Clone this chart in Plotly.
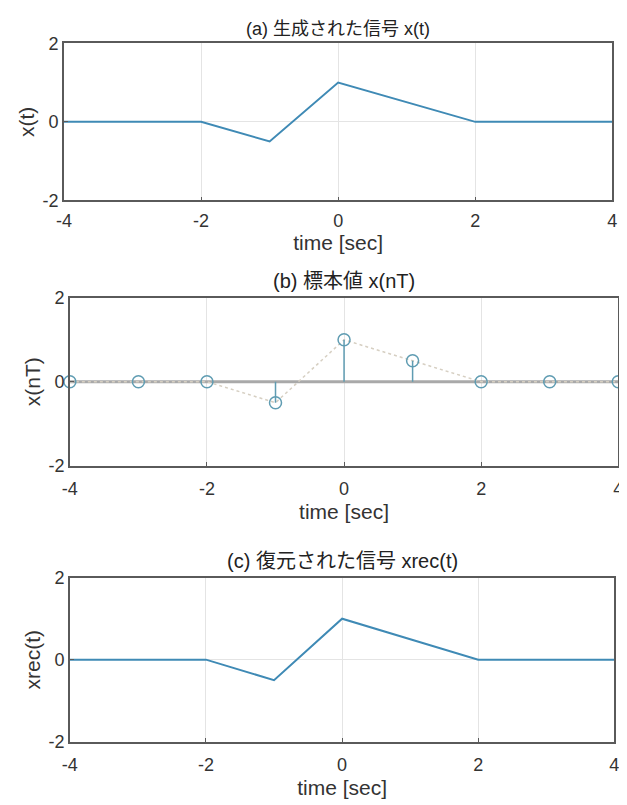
import plotly.graph_objects as go

# ---- data ----
t_signal = [-4, -2, -1, 0, 2, 4]
x_signal = [0, 0, -0.5, 1, 0, 0]

n_samples = [-4, -3, -2, -1, 0, 1, 2, 3, 4]
x_samples = [0, 0, 0, -0.5, 1, 0.5, 0, 0, 0]

t_rec = [-4, -2, -1, 0, 2, 4]
x_rec = [0, 0, -0.5, 1, 0, 0]

x_ticks = [-4, -2, 0, 2, 4]
x_ticktext = ["-4", "-2", "0", "2", "4"]
y_ticks = [-2, 0, 2]
y_ticktext = ["-2", "0", "2"]

titles = ["(a) 生成された信号 x(t)", "(b) 標本値 x(nT)", "(c) 復元された信号 xrec(t)"]
ylabels = ["x(t)", "x(nT)", "xrec(t)"]
xlabel = "time [sec]"

FONT = "Liberation Sans, Arial, Noto Sans CJK JP, sans-serif"
LINE_BLUE = "#3f8ab5"
STEM_COLOR = "#5f9cb2"
TXT = "#333333"

W, H = 627, 805
# panel boxes in pixels: left, right, top, bottom
boxes = [(49, 609, 26, 187), (55, 615, 287, 459), (55, 611, 574, 742)]
title_shift = [1, 4, 4]
tick_standoff = [3, 6, 6]

fig = go.Figure()

# (a)
fig.add_trace(go.Scatter(x=t_signal, y=x_signal, mode="lines",
                         line=dict(color=LINE_BLUE, width=2), xaxis="x", yaxis="y",
                         showlegend=False, hoverinfo="skip"))

# (b) baseline
fig.add_trace(go.Scatter(x=[n_samples[0], n_samples[-1]], y=[0, 0], mode="lines",
                         line=dict(color="#a9a9a9", width=3), xaxis="x2", yaxis="y2",
                         showlegend=False, hoverinfo="skip"))
# dotted continuous signal
fig.add_trace(go.Scatter(x=t_signal, y=x_signal, mode="lines",
                         line=dict(color="#d6cfc2", width=1.5, dash="dot"), xaxis="x2", yaxis="y2",
                         showlegend=False, hoverinfo="skip"))
# stems
sx, sy = [], []
for n, v in zip(n_samples, x_samples):
    sx += [n, n, None]
    sy += [0, v, None]
fig.add_trace(go.Scatter(x=sx, y=sy, mode="lines",
                         line=dict(color=STEM_COLOR, width=1.5), xaxis="x2", yaxis="y2",
                         showlegend=False, hoverinfo="skip"))
fig.add_trace(go.Scatter(x=n_samples, y=x_samples, mode="markers",
                         marker=dict(symbol="circle-open", size=12, color=STEM_COLOR,
                                     line=dict(width=1.5, color=STEM_COLOR)),
                         xaxis="x2", yaxis="y2", showlegend=False, hoverinfo="skip",
                         cliponaxis=False))

# (c)
fig.add_trace(go.Scatter(x=t_rec, y=x_rec, mode="lines",
                         line=dict(color=LINE_BLUE, width=2), xaxis="x3", yaxis="y3",
                         showlegend=False, hoverinfo="skip"))

layout = dict(width=W, height=H, margin=dict(l=0, r=0, t=0, b=0),
              paper_bgcolor="white", plot_bgcolor="white",
              font=dict(family=FONT, size=18, color=TXT))

annotations = []
for i, (l, r, t, b) in enumerate(boxes):
    sfx = "" if i == 0 else str(i + 1)
    xd = [l / W, r / W]
    yd = [1 - b / H, 1 - t / H]
    layout["xaxis" + sfx] = dict(
        domain=xd, anchor="y" + sfx, range=[-4, 4], tickvals=x_ticks, ticktext=x_ticktext,
        showgrid=True, gridcolor="#e4e4e4", gridwidth=1, zeroline=False,
        showline=True, linecolor="#5a5a5a", linewidth=1.5, mirror=True,
        ticks="inside", ticklen=4, tickcolor="#5a5a5a", ticklabelstandoff=tick_standoff[i],
        tickfont=dict(size=18, color=TXT),
        title=dict(text=xlabel, font=dict(size=21, color=TXT), standoff=6),
    )
    layout["yaxis" + sfx] = dict(
        domain=yd, anchor="x" + sfx, range=[-2, 2], tickvals=y_ticks, ticktext=y_ticktext,
        showgrid=True, gridcolor="#e4e4e4", gridwidth=1, zeroline=False,
        showline=True, linecolor="#5a5a5a", linewidth=1.5, mirror=True,
        ticks="inside", ticklen=4, tickcolor="#5a5a5a", ticklabelstandoff=0,
        tickfont=dict(size=18, color=TXT),
        title=dict(text=ylabels[i], font=dict(size=21, color=TXT), standoff=2),
    )
    if i == 0:
        annotations.append(dict(
            text=titles[i], xref="paper", yref="paper",
            x=(xd[0] + xd[1]) / 2, y=1, yanchor="top", xanchor="center",
            yshift=title_shift[i], showarrow=False, font=dict(size=18, color="#222222")))
    else:
        annotations.append(dict(
            text=titles[i], xref="paper", yref="paper",
            x=(xd[0] + xd[1]) / 2, y=yd[1], yanchor="bottom", xanchor="center",
            yshift=title_shift[i], showarrow=False, font=dict(size=20, color="#222222")))

layout["annotations"] = annotations
fig.update_layout(**layout)

fig.write_html("out.html")
